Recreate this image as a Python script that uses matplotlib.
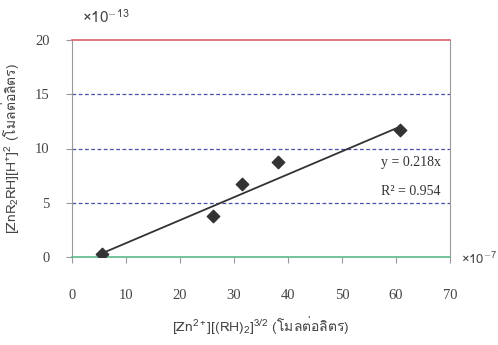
import matplotlib
matplotlib.use("Agg")
import matplotlib.pyplot as plt

# ---- data ----
x_vals = [5.6, 26.1, 31.5, 38.2, 60.7]
y_vals = [0.25, 3.75, 6.77, 8.76, 11.74]
trend_x = [5.6, 60.7]
trend_y = [0.35, 12.0]
x_ticks = [0, 10, 20, 30, 40, 50, 60, 70]
y_ticks = [0, 5, 10, 15, 20]
eq_text = "y = 0.218x"
r2_text = "R² = 0.954"
x_label = r"[Zn$^{2+}$][(RH)$_2$]$^{3/2}$ (โมลต่อลิตร)"
y_label = r"[ZnR$_2$RH][H$^{+}$]$^2$ (โมลต่อลิตร)"

plt.rcParams["mathtext.fontset"] = "custom"
plt.rcParams["mathtext.rm"] = "Loma"
plt.rcParams["mathtext.it"] = "Loma"
plt.rcParams["mathtext.bf"] = "Loma"

label_fams = ["Loma", "DejaVu Sans"]

fig = plt.figure(figsize=(4.98, 3.45), dpi=100)
ax = fig.add_axes([72/498, 1-257/345, (450-72)/498, (257-40)/345])

ax.set_xlim(0, 70)
ax.set_ylim(0, 20)

for yv in [5, 10, 15]:
    ax.axhline(yv, color="#4a4fa8", lw=0.9, ls=(0, (3, 2)), zorder=1)

ax.plot(trend_x, trend_y, color="#333333", lw=1.3, zorder=2)
ax.scatter(x_vals, y_vals, marker="D", s=40, color="#333333", zorder=3)

for s in ["left", "right"]:
    ax.spines[s].set_color("#999999")
ax.spines["top"].set_color("#e06070")
ax.spines["top"].set_linewidth(1.2)
ax.spines["bottom"].set_color("#5cb88a")
ax.spines["bottom"].set_linewidth(1.2)

ax.set_xticks(x_ticks)
ax.set_yticks(y_ticks)
ax.tick_params(axis="x", direction="out", length=4, pad=19, colors="#999999",
               labelcolor="#444444", labelsize=10.5)
ax.tick_params(axis="y", direction="out", length=4, pad=12, colors="#999999",
               labelcolor="#444444", labelsize=10.5)
for lab in ax.get_xticklabels() + ax.get_yticklabels():
    lab.set_fontfamily("Liberation Serif")

ax.text(0.975, 0.435, eq_text, transform=ax.transAxes, ha="right", va="center",
        fontsize=10, family="Liberation Serif", color="#333333")
ax.text(0.975, 0.30, r2_text, transform=ax.transAxes, ha="right", va="center",
        fontsize=10, family="Liberation Serif", color="#333333")

fig.text(82/498, 1-17/345, r"$\times10^{-13}$", fontsize=11, color="#444444",
         ha="left", va="center", family=label_fams)
fig.text(461/498, 1-259/345, r"$\times10^{-7}$", fontsize=9.5, color="#444444",
         ha="left", va="center", family=label_fams)

ax.set_xlabel(x_label, fontsize=10, color="#444444", family=label_fams,
              labelpad=9)
ax.set_ylabel(y_label, fontsize=10, color="#444444", family=label_fams,
              labelpad=10)

fig.savefig("out.png", dpi=100)
